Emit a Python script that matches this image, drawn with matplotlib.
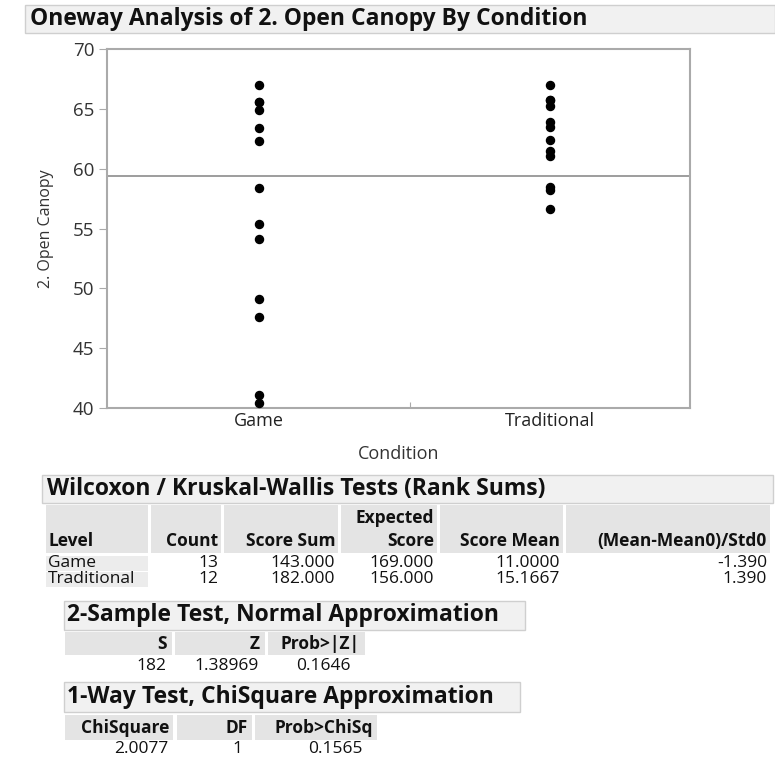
import matplotlib.pyplot as plt
from matplotlib.patches import Rectangle
import numpy as np

plt.rcParams['font.family'] = ['Open Sans', 'DejaVu Sans']

W, H = 775, 773

# data
conditions = ['Game', 'Traditional']
game_canopy = [67.0, 65.6, 65.6, 64.9, 63.4, 62.3, 58.4, 55.4, 54.1, 49.1, 47.6, 41.1, 40.4]
trad_canopy = [67.0, 65.7, 65.7, 65.2, 63.9, 63.5, 62.4, 61.5, 61.1, 58.5, 58.2, 56.6]
y_ticks = [40, 45, 50, 55, 60, 65, 70]

wilcoxon_cols = ['Level', 'Count', 'Score Sum', 'Score', 'Score Mean', '(Mean-Mean0)/Std0']
score_sum = ['143.000', '182.000']
expected_score = ['169.000', '156.000']
score_mean = ['11.0000', '15.1667']
std_score = ['-1.390', '1.390']

two_sample_cols = ['S', 'Z', 'Prob>|Z|']
two_sample_vals = ['182', '1.38969', '0.1646']

chisq_cols = ['ChiSquare', 'DF', 'Prob>ChiSq']
chisq_vals = ['2.0077', '1', '0.1565']

groups = [game_canopy, trad_canopy]
counts = [len(g) for g in groups]

fig = plt.figure(figsize=(W / 100, H / 100), dpi=100)


def fx(x):
    return x / W


def fy(y):
    return 1 - y / H


def box(x0, y0, x1, y1, fc, ec='none', lw=1.0):
    fig.add_artist(Rectangle((fx(x0), fy(y1)), (x1 - x0) / W, (y1 - y0) / H,
                             transform=fig.transFigure, facecolor=fc,
                             edgecolor=ec, linewidth=lw))


def txt(x, y, s, ha='left', size=13, weight='normal', color='#111111'):
    fig.text(fx(x), fy(y), s, ha=ha, va='center', fontsize=size,
             fontweight=weight, color=color)


HEAD = 16.5   # section header size
CELL = 12.5   # table text size

# ---- oneway plot ----
ax = fig.add_axes([fx(107), fy(408), (690 - 107) / W, (408 - 49) / H])
edges = np.concatenate([[0], np.cumsum(counts)])
centers = (edges[:-1] + edges[1:]) / 2
for c, g in zip(centers, groups):
    ax.plot([c] * len(g), g, 'o', color='black', markersize=5.8, zorder=3)

all_vals = np.concatenate(groups)
ax.axhline(all_vals.mean(), color='#8c8c8c', linewidth=1.2, zorder=2)

ax.set_xlim(0, edges[-1])
ax.set_ylim(40, 70)
ax.set_yticks(y_ticks)
ax.set_xticks(edges[1:-1])
ax.set_xticklabels([])
ax.set_xticks(centers, minor=True)
ax.set_xticklabels(conditions, minor=True)
ax.tick_params(axis='x', which='major', length=4, color='#aaaaaa', direction='in')
ax.tick_params(axis='x', which='minor', length=0, labelsize=13, labelcolor='#222222', pad=3)
ax.tick_params(axis='y', length=6, color='#aaaaaa', labelsize=13.5, labelcolor='#333333', pad=3)
for s in ax.spines.values():
    s.set_color('#aaaaaa')
    s.set_linewidth(1.5)
ax.set_ylabel('2. Open Canopy', fontsize=11.5, color='#333333', labelpad=14)
ax.set_xlabel('Condition', fontsize=13, color='#333333', labelpad=11)

# ---- title bar ----
box(25, 5, 775, 33, '#f1f1f1', '#cfcfcf')
txt(30, 19, 'Oneway Analysis of 2. Open Canopy By Condition', size=HEAD, weight='bold')

# ---- Wilcoxon table ----
box(42, 475, 773, 503, '#f1f1f1', '#cfcfcf')
txt(47, 489, 'Wilcoxon / Kruskal-Wallis Tests (Rank Sums)', size=HEAD, weight='bold')

col_cells = [(46, 148), (151, 221), (224, 338), (341, 437), (440, 563), (566, 770)]
for (a, b) in col_cells:
    box(a, 505, b, 553, '#e4e4e4')
for r in range(2):
    box(46, 556 + r * 16, 148, 571 + r * 16, '#ececec')

for i, (name, (a, b)) in enumerate(zip(wilcoxon_cols, col_cells)):
    if i == 0:
        txt(a + 2, 541, name, size=CELL, weight='bold')
    else:
        txt(b - 3, 541, name, ha='right', size=CELL, weight='bold')
txt(col_cells[3][1] - 3, 518, 'Expected', ha='right', size=CELL, weight='bold')

row_cols = [conditions, [str(c) for c in counts], score_sum, expected_score, score_mean, std_score]
for r in range(2):
    y = 563 + r * 16
    for i, ((a, b), col) in enumerate(zip(col_cells, row_cols)):
        if i == 0:
            txt(a + 2, y, col[r], size=CELL)
        else:
            txt(b - 3, y, col[r], ha='right', size=CELL)

# ---- 2-sample test ----
box(64, 601, 525, 630, '#f1f1f1', '#cfcfcf')
txt(67, 615, '2-Sample Test, Normal Approximation', size=HEAD, weight='bold')
ts_cells = [(65, 172), (175, 265), (268, 365)]
for (a, b) in ts_cells:
    box(a, 632, b, 655, '#e4e4e4')
for name, (a, b) in zip(two_sample_cols, ts_cells):
    txt(b - 5, 644, name, ha='right', size=CELL, weight='bold')
for val, (a, b), off in zip(two_sample_vals, ts_cells, [6, 6, 14]):
    txt(b - off, 666, val, ha='right', size=CELL)

# ---- 1-way chi-square test ----
box(64, 682, 520, 712, '#f1f1f1', '#cfcfcf')
txt(67, 697, '1-Way Test, ChiSquare Approximation', size=HEAD, weight='bold')
cs_cells = [(65, 173), (177, 252), (255, 377)]
for (a, b) in cs_cells:
    box(a, 715, b, 740, '#e4e4e4')
for name, (a, b) in zip(chisq_cols, cs_cells):
    txt(b - 4, 728, name, ha='right', size=CELL, weight='bold')
for val, (a, b), off in zip(chisq_vals, cs_cells, [5, 10, 14]):
    txt(b - off, 749, val, ha='right', size=CELL)

fig.savefig('out.png', dpi=100)
